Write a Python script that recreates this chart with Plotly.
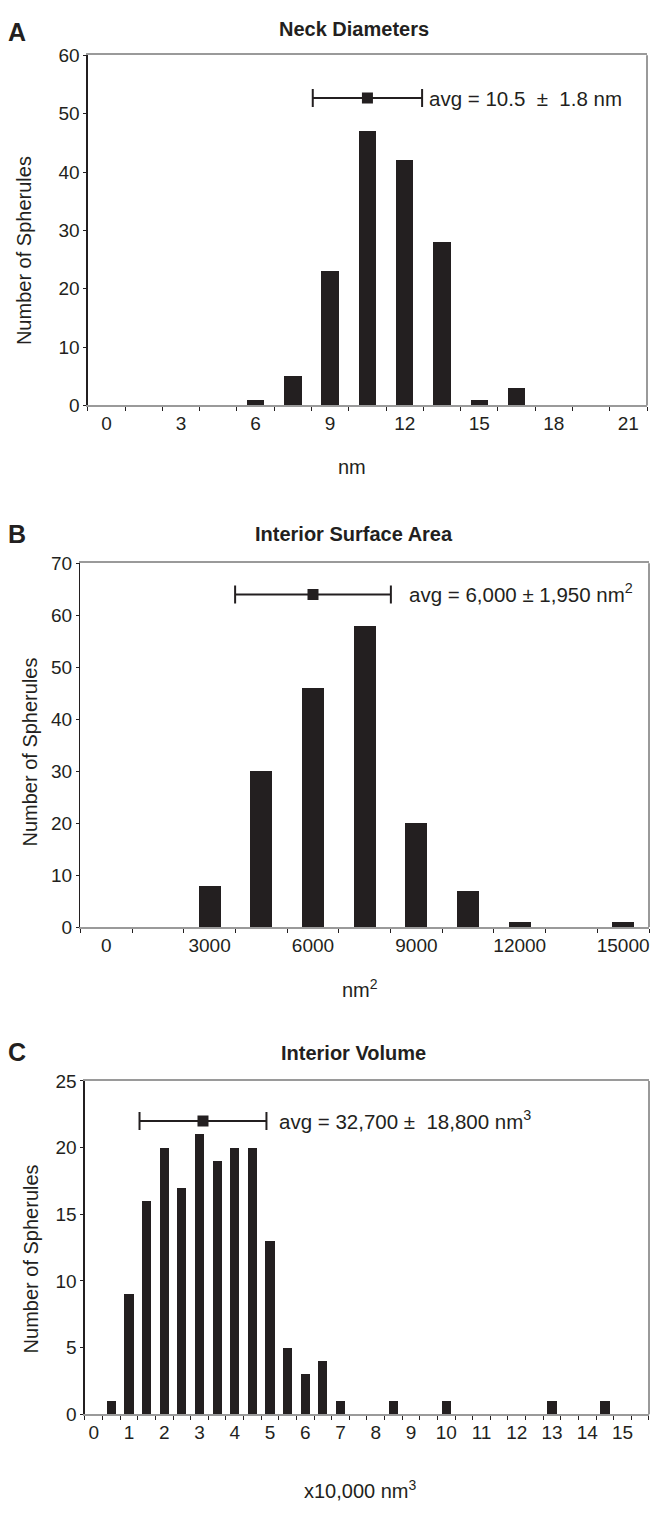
import plotly.graph_objects as go

# ---------------- data ----------------
neck_bins = [0, 1.5, 3, 4.5, 6, 7.5, 9, 10.5, 12, 13.5, 15, 16.5, 18, 19.5, 21]
neck_counts = [0, 0, 0, 0, 1, 5, 23, 47, 42, 28, 1, 3, 0, 0, 0]
neck_ticks = [0, 3, 6, 9, 12, 15, 18, 21]
neck_avg, neck_err, neck_avg_y = 10.5, 2.2, 52.7

area_bins = [0, 1500, 3000, 4500, 6000, 7500, 9000, 10500, 12000, 13500, 15000]
area_counts = [0, 0, 8, 30, 46, 58, 20, 7, 1, 0, 1]
area_ticks = [0, 3000, 6000, 9000, 12000, 15000]
area_avg, area_err, area_avg_y = 6000, 2260, 64

vol_bins = [0, 0.5, 1, 1.5, 2, 2.5, 3, 3.5, 4, 4.5, 5, 5.5, 6, 6.5, 7, 7.5,
            8, 8.5, 9, 9.5, 10, 10.5, 11, 11.5, 12, 12.5, 13, 13.5, 14, 14.5, 15, 15.5]
vol_counts = [0, 1, 9, 16, 20, 17, 21, 19, 20, 20, 13, 5, 3, 4, 1, 0,
              0, 1, 0, 0, 1, 0, 0, 0, 0, 0, 1, 0, 0, 1, 0, 0]
vol_ticks = list(range(0, 16))
vol_avg, vol_err, vol_avg_y = 3.1, 1.8, 22

# ---------------- style ----------------
W, H = 652, 1514
DARK = "#231f20"
GRAY = "#9a9a9a"
FONT = "Liberation Sans, Arial, Helvetica, sans-serif"
FS = 19
NB = "\u00a0"


def px(x):
    return x / W


def py(y):
    return 1 - y / H


panels = [
    dict(bins=neck_bins, counts=neck_counts, ticks=neck_ticks, step=1.5, bw=0.70,
         yr=[0, 60], dy=10, avg=neck_avg, err=neck_err, ay=neck_avg_y,
         dom_x=[88, 648], dom_y=[46, 401],
         title="Neck Diameters", letter="A", title_y=19, letter_y=22,
         ytitle_x=23.5, ytitle_y=244,
         xtitle="nm", xtitle_x=353, xtitle_y=463,
         avg_text="avg = 10.5" + NB + " \u00b1" + NB + " 1.8 nm", avg_x=428, avg_y=89.5),
    dict(bins=area_bins, counts=area_counts, ticks=area_ticks, step=1500, bw=640,
         yr=[0, 70], dy=10, avg=area_avg, err=area_err, ay=area_avg_y,
         dom_x=[80.5, 650], dom_y=[561, 930],
         title="Interior Surface Area", letter="B", title_y=531.5, letter_y=531,
         ytitle_x=30, ytitle_y=752,
         xtitle="nm<sup>2</sup>", xtitle_x=361, xtitle_y=992,
         avg_text="avg = 6,000 \u00b1 1,950 nm<sup>2</sup>", avg_x=408, avg_y=591),
    dict(bins=vol_bins, counts=vol_counts, ticks=vol_ticks, step=0.5, bw=0.26,
         yr=[0, 25], dy=5, avg=vol_avg, err=vol_err, ay=vol_avg_y,
         dom_x=[85, 650], dom_y=[1086, 1424],
         title="Interior Volume", letter="C", title_y=1058, letter_y=1057,
         ytitle_x=31, ytitle_y=1266,
         xtitle="x10,000 nm<sup>3</sup>", xtitle_x=361, xtitle_y=1500,
         avg_text="avg = 32,700 \u00b1" + NB + " 18,800 nm<sup>3</sup>", avg_x=277, avg_y=1126),
]

fig = go.Figure()
annotations = []
shapes = []
layout = {}

for i, p in enumerate(panels):
    n = "" if i == 0 else str(i + 1)
    xa, ya = "x" + n, "y" + n
    fig.add_trace(go.Bar(x=p["bins"], y=p["counts"], width=p["bw"],
                         marker=dict(color=DARK, line=dict(width=0)),
                         xaxis=xa, yaxis=ya, showlegend=False, hoverinfo="skip"))
    fig.add_trace(go.Scatter(x=[p["avg"]], y=[p["ay"]], mode="markers",
                             marker=dict(symbol="square", size=11, color=DARK),
                             error_x=dict(type="constant", value=p["err"],
                                          thickness=2, width=9, color=DARK),
                             xaxis=xa, yaxis=ya, showlegend=False, hoverinfo="skip"))
    half = p["step"] / 2
    boundaries = [b - half for b in p["bins"]] + [p["bins"][-1] + half]
    layout["xaxis" + n] = dict(
        domain=[px(p["dom_x"][0]), px(p["dom_x"][1])],
        anchor=ya,
        range=[p["bins"][0] - half, p["bins"][-1] + half],
        tickmode="array", tickvals=p["ticks"],
        ticktext=[str(t) for t in p["ticks"]],
        ticks="", showgrid=False, zeroline=False,
        showline=True, linecolor=GRAY, linewidth=2, mirror=True,
        tickfont=dict(family=FONT, size=FS, color=DARK),
        minor=dict(tickmode="array", tickvals=boundaries, ticks="outside",
                   ticklen=4, tickwidth=1, tickcolor=DARK, showgrid=False),
        fixedrange=True,
    )
    layout["yaxis" + n] = dict(
        domain=[py(p["dom_y"][1]), py(p["dom_y"][0])],
        anchor=xa,
        range=p["yr"], dtick=p["dy"], tick0=0,
        ticks="outside", ticklen=3, tickwidth=1, tickcolor=DARK,
        showgrid=False, zeroline=False,
        showline=True, linecolor=DARK, linewidth=1.5,
        tickfont=dict(family=FONT, size=FS, color=DARK),
        fixedrange=True,
    )
    # right border (gray)
    shapes.append(dict(type="line", xref=xa + " domain", yref=ya + " domain",
                       x0=1, x1=1, y0=0, y1=1, line=dict(color=GRAY, width=2)))
    # texts
    annotations += [
        dict(text="<b>" + p["title"] + "</b>", x=px(354.5), y=py(p["title_y"]),
             xref="paper", yref="paper", showarrow=False, xanchor="center", yanchor="middle",
             font=dict(family=FONT, size=20, color=DARK)),
        dict(text="<b>" + p["letter"] + "</b>", x=px(17), y=py(p["letter_y"]),
             xref="paper", yref="paper", showarrow=False, xanchor="center", yanchor="middle",
             font=dict(family=FONT, size=25, color=DARK)),
        dict(text="Number of Spherules", x=px(p["ytitle_x"]), y=py(p["ytitle_y"]),
             xref="paper", yref="paper", showarrow=False, xanchor="center", yanchor="middle",
             textangle=-90, font=dict(family=FONT, size=20, color=DARK)),
        dict(text=p["xtitle"], x=px(p["xtitle_x"]), y=py(p["xtitle_y"]),
             xref="paper", yref="paper", showarrow=False, xanchor="center", yanchor="middle",
             font=dict(family=FONT, size=20, color=DARK)),
        dict(text=p["avg_text"], x=px(p["avg_x"]), y=py(p["avg_y"]),
             xref="paper", yref="paper", showarrow=False, xanchor="left", yanchor="middle",
             font=dict(family=FONT, size=20.5, color=DARK)),
    ]

fig.update_layout(
    width=W, height=H,
    margin=dict(l=0, r=0, t=0, b=0),
    paper_bgcolor="white", plot_bgcolor="white",
    bargap=0, showlegend=False,
    annotations=annotations, shapes=shapes,
    **layout,
)

fig.write_html("out.html", config={"displayModeBar": False, "staticPlot": True},
               post_script="document.body.style.margin='0px';"
                           "document.documentElement.style.margin='0px';"
                           "document.body.style.overflow='hidden';")
